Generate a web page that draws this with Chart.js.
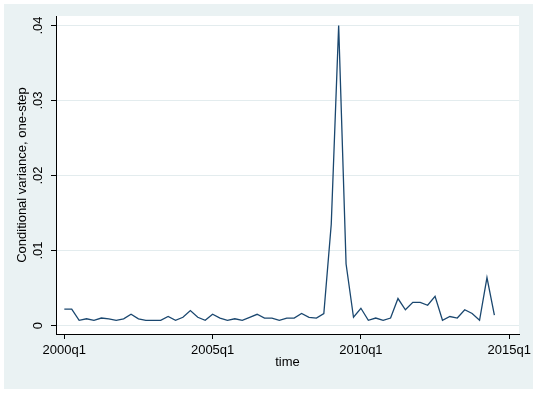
<!DOCTYPE html>
<html>
<head>
<meta charset="utf-8">
<script src="https://cdn.jsdelivr.net/npm/chart.js@4/dist/chart.umd.min.js"></script>
<style>
  html, body { margin: 0; padding: 0; background: #ffffff; }
  #wrap { width: 537px; height: 393px; }
</style>
</head>
<body>
<div id="wrap"><canvas id="c" width="537" height="393"></canvas></div>
<script>
// ---- data ----
const quarters = [
  '2000q1','2000q2','2000q3','2000q4','2001q1','2001q2','2001q3','2001q4',
  '2002q1','2002q2','2002q3','2002q4','2003q1','2003q2','2003q3','2003q4',
  '2004q1','2004q2','2004q3','2004q4','2005q1','2005q2','2005q3','2005q4',
  '2006q1','2006q2','2006q3','2006q4','2007q1','2007q2','2007q3','2007q4',
  '2008q1','2008q2','2008q3','2008q4','2009q1','2009q2','2009q3','2009q4',
  '2010q1','2010q2','2010q3','2010q4','2011q1','2011q2','2011q3','2011q4',
  '2012q1','2012q2','2012q3','2012q4','2013q1','2013q2','2013q3','2013q4',
  '2014q1','2014q2','2014q3'
];
const condVariance = [
  0.0022, 0.0022, 0.0007, 0.0009, 0.0007, 0.0010, 0.0009, 0.0007,
  0.0009, 0.0015, 0.0009, 0.0007, 0.0007, 0.0007, 0.0012, 0.0007,
  0.0011, 0.0020, 0.0011, 0.0007, 0.0015, 0.0010, 0.0007, 0.0009,
  0.0007, 0.0011, 0.0015, 0.0010, 0.0010, 0.0007, 0.0010, 0.0010,
  0.0016, 0.0011, 0.0010, 0.0016, 0.0135, 0.0400, 0.0082, 0.0011,
  0.0023, 0.0007, 0.0010, 0.0007, 0.0010, 0.0036, 0.0021, 0.0031,
  0.0031, 0.0027, 0.0039, 0.0007, 0.0012, 0.0010, 0.0021, 0.0016,
  0.0007, 0.0064, 0.0014
];
const xTickLabels = ['2000q1','2005q1','2010q1','2015q1'];
const yTickValues = [0, 0.01, 0.02, 0.03, 0.04];
const yTickLabels = ['0', '.01', '.02', '.03', '.04'];
const xTitle = 'time';
const yTitle = 'Conditional variance, one-step';

// quarter label -> quarters since 2000q1
function qIndex(s) {
  const y = parseInt(s.slice(0, 4), 10);
  const q = parseInt(s.slice(5), 10);
  return (y - 2000) * 4 + (q - 1);
}

const points = quarters.map((q, i) => ({ x: qIndex(q), y: condVariance[i] }));
const xTickPos = xTickLabels.map(qIndex);

const FONT = "'Liberation Sans', Arial, sans-serif";

const bgPlugin = {
  id: 'bg',
  beforeDraw(chart) {
    const ctx = chart.ctx;
    const a = chart.chartArea;
    ctx.save();
    ctx.fillStyle = '#ffffff';
    ctx.fillRect(0, 0, chart.width, chart.height);
    ctx.fillStyle = '#EAF2F3';
    ctx.fillRect(4, 4, chart.width - 8, chart.height - 8);
    ctx.fillStyle = '#ffffff';
    ctx.fillRect(a.left, a.top, a.right - a.left, a.bottom - a.top);
    ctx.restore();
  }
};

new Chart(document.getElementById('c'), {
  type: 'line',
  data: {
    datasets: [{
      data: points,
      borderColor: '#1A476F',
      borderWidth: 1.3,
      pointRadius: 0,
      tension: 0,
      fill: false
    }]
  },
  options: {
    responsive: false,
    animation: false,
    layout: { padding: { top: 16, right: 18, left: 0, bottom: 0 } },
    plugins: { legend: { display: false }, tooltip: { enabled: false } },
    scales: {
      x: {
        type: 'linear',
        min: -1.12,
        max: 61.32,
        afterBuildTicks(scale) { scale.ticks = xTickPos.map(v => ({ value: v })); },
        afterFit(scale) { scale.height = 59; },
        ticks: {
          autoSkip: false,
          maxRotation: 0,
          padding: 4,
          color: '#000',
          font: { family: FONT, size: 13 },
          callback(v) { const k = xTickPos.indexOf(v); return k >= 0 ? xTickLabels[k] : ''; }
        },
        grid: { drawOnChartArea: false, tickLength: 5, tickColor: '#000', lineWidth: 1 },
        border: { display: true, color: '#000', width: 1 },
        title: {
          display: true, text: xTitle, color: '#000',
          font: { family: FONT, size: 13 },
          padding: { top: 0, bottom: 23 }
        }
      },
      y: {
        type: 'linear',
        min: -0.00113,
        max: 0.04127,
        afterBuildTicks(scale) { scale.ticks = yTickValues.map(v => ({ value: v })); },
        afterFit(scale) { scale.width = 56; },
        ticks: {
          autoSkip: false,
          minRotation: 90,
          maxRotation: 90,
          crossAlign: 'center',
          padding: 4,
          color: '#000',
          font: { family: FONT, size: 13 },
          callback(v) { const k = yTickValues.indexOf(v); return k >= 0 ? yTickLabels[k] : ''; }
        },
        grid: { drawOnChartArea: true, color: '#E3ECEE', tickLength: 5, tickColor: '#000', lineWidth: 1 },
        border: { display: true, color: '#000', width: 1 },
        title: {
          display: true, text: yTitle, color: '#000',
          font: { family: FONT, size: 13 },
          padding: { top: 15, bottom: 0 }
        }
      }
    }
  },
  plugins: [bgPlugin]
});
</script>
</body>
</html>
